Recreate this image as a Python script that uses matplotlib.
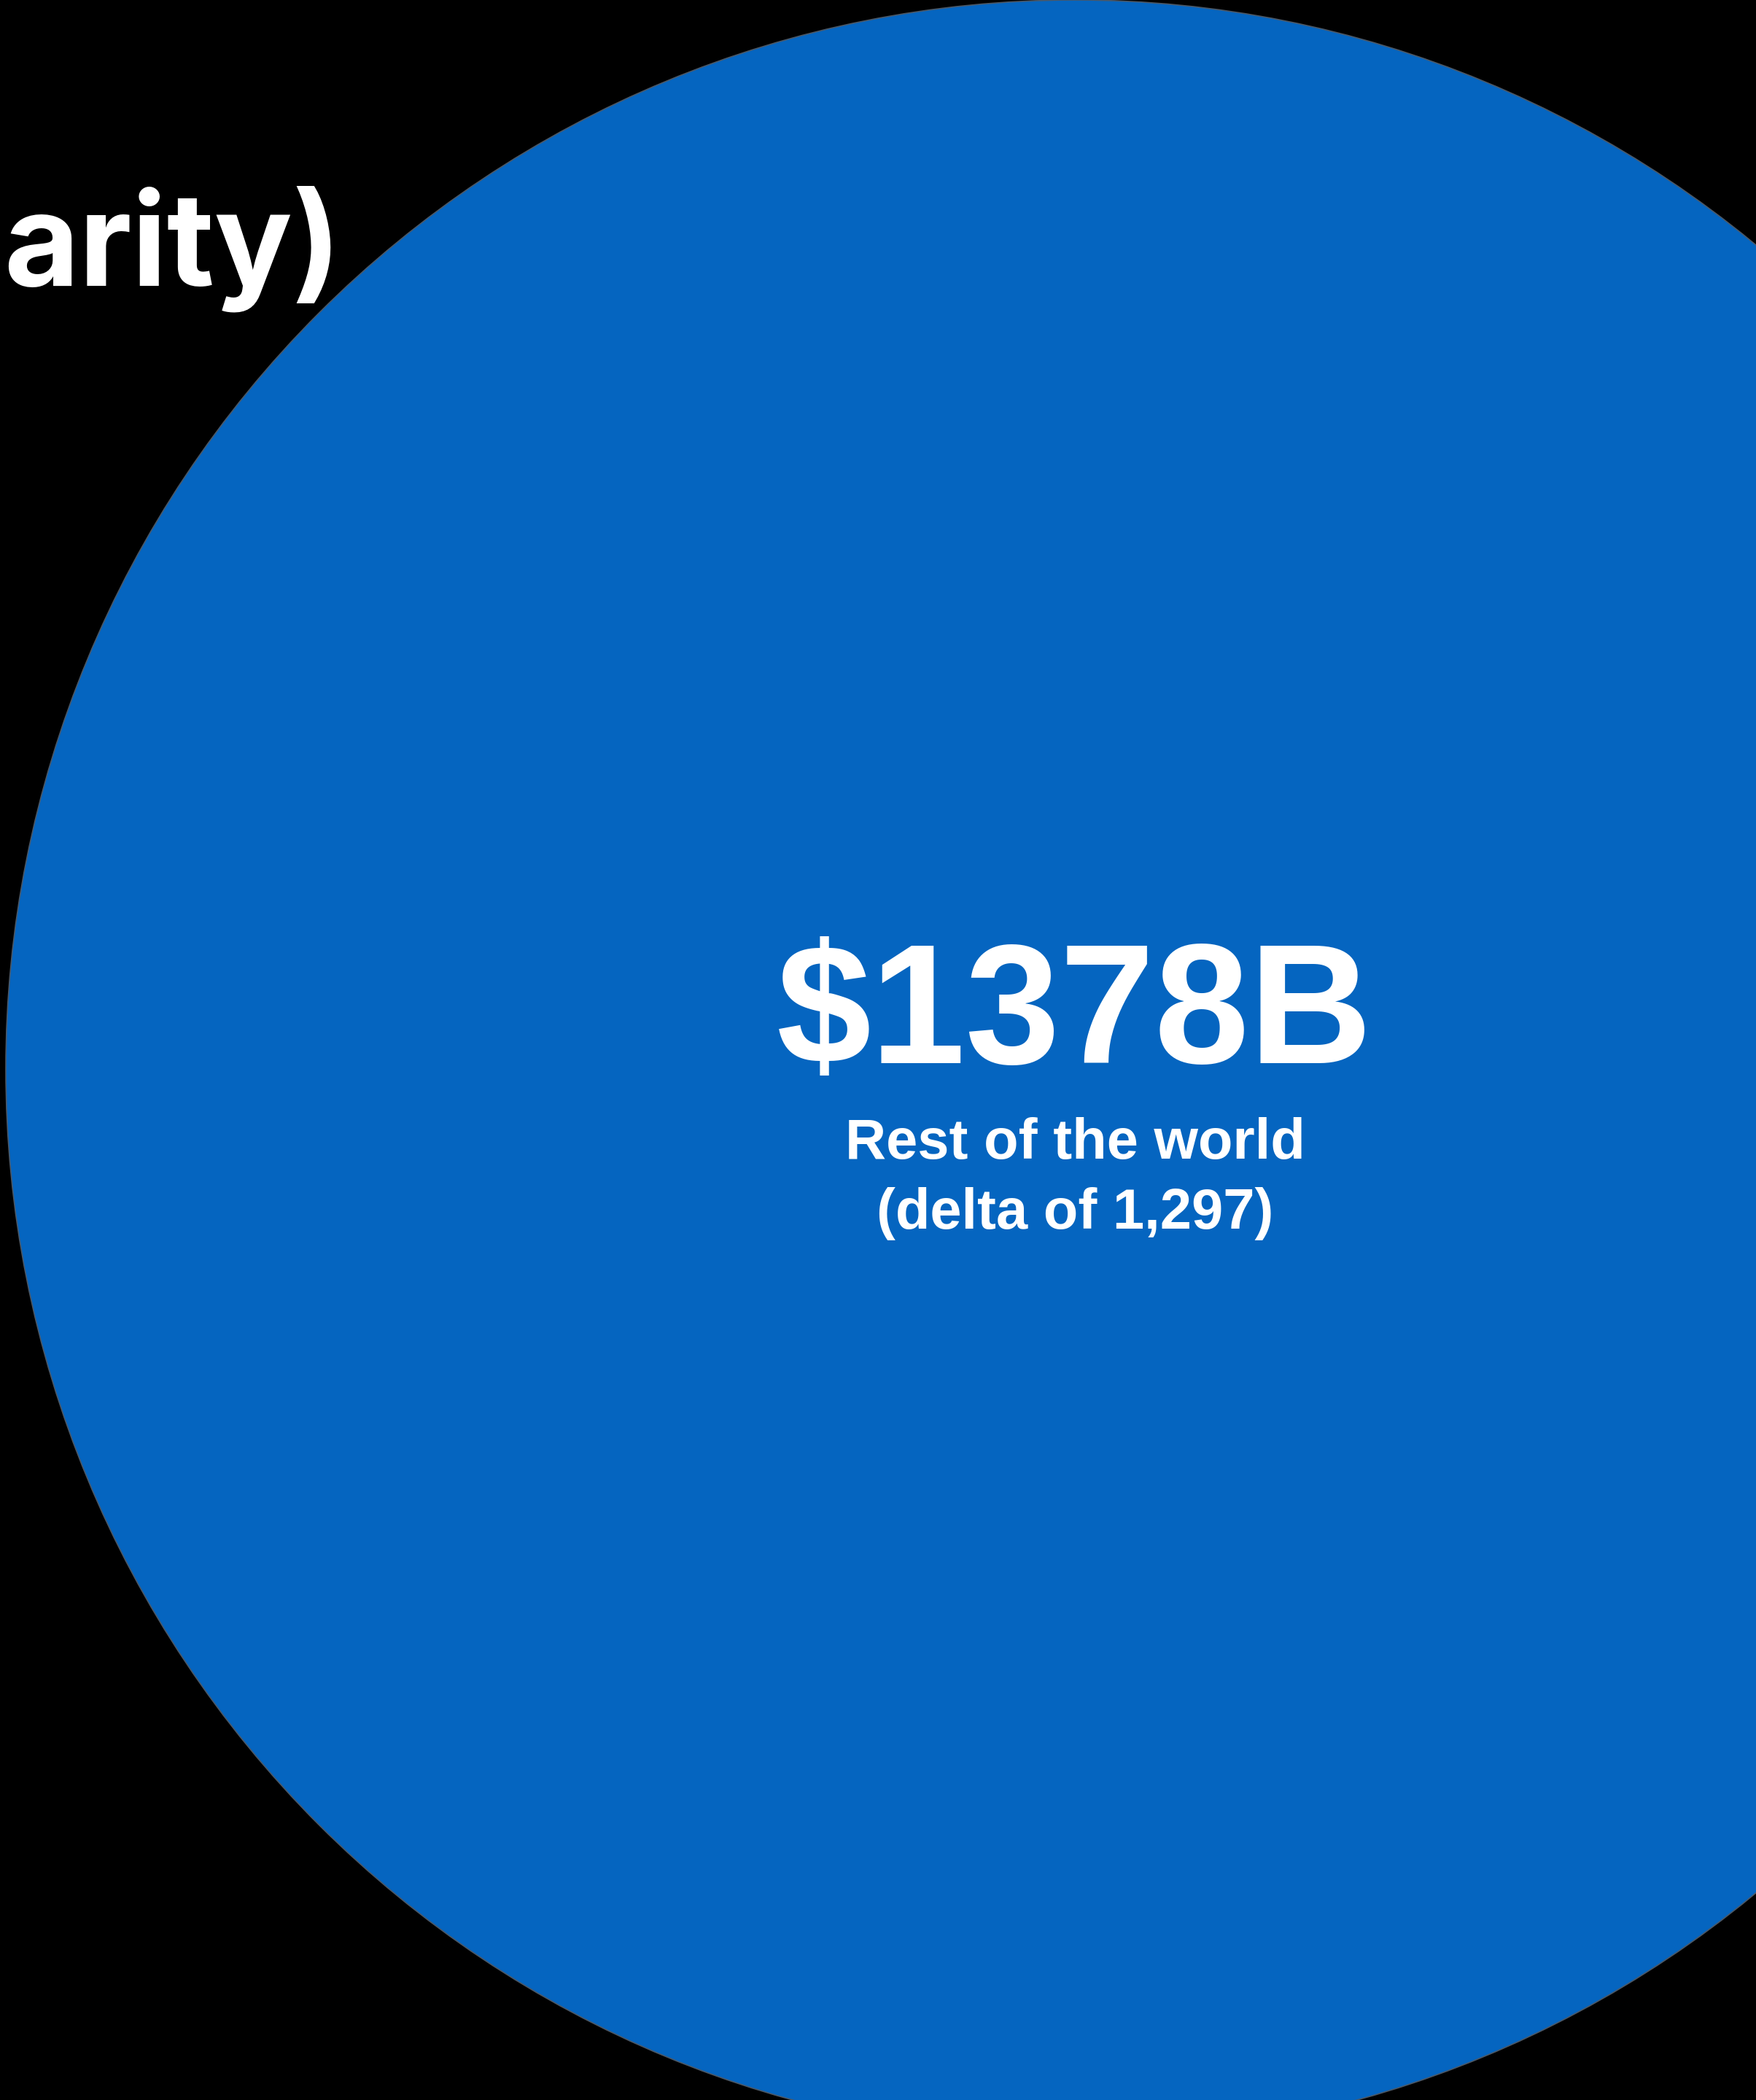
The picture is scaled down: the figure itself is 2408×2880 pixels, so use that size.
import matplotlib
matplotlib.use("Agg")
import matplotlib.pyplot as plt
from matplotlib.patches import Circle

# data
region = "Rest of the world"
value_b = 1378
delta = 1297
title_tail = "arity)"

# canvas in pixel units (2408 x 2880)
W, H = 2408, 2880
fig = plt.figure(figsize=(W / 100, H / 100), dpi=100, facecolor="black")
ax = fig.add_axes([0, 0, 1, 1])
ax.set_xlim(0, W)
ax.set_ylim(H, 0)
ax.set_aspect("equal")
ax.axis("off")
ax.set_facecolor("black")

# bubble
cx, cy, r = 1474, 1466, 1466
ax.add_patch(Circle((cx, cy), r, facecolor="#0565C0", edgecolor="#4a5868", linewidth=1.2))

# labels
ax.text(cx, 1458, f"${value_b}B", color="white", fontsize=168, fontweight="bold",
        family="Liberation Sans", ha="center", va="baseline")
ax.text(cx, 1589, region, color="white", fontsize=56, fontweight="bold",
        family="Liberation Sans", ha="center", va="baseline")
ax.text(cx, 1685, f"(delta of {delta:,})", color="white", fontsize=56, fontweight="bold",
        family="Liberation Sans", ha="center", va="baseline")

# cut-off title
ax.text(5, 391, title_tail, color="white", fontsize=128, fontweight="bold",
        family="Inter", ha="left", va="baseline")

fig.savefig("out.png", dpi=100, facecolor="black")
